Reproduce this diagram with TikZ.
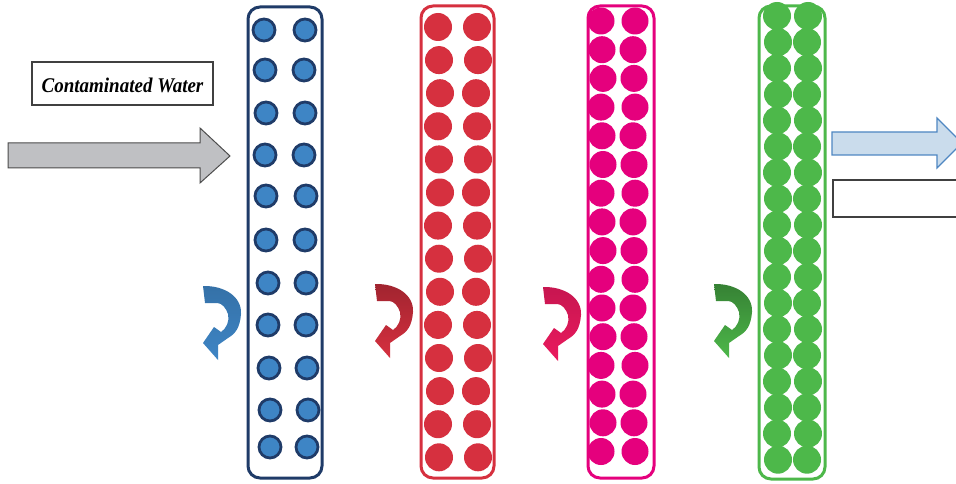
\documentclass[tikz,border=0pt]{standalone}
\usepackage{fontspec}
\setmainfont{Liberation Serif}
\definecolor{navy}{HTML}{1F3B68}
\definecolor{bluefill}{HTML}{3E85C5}
\definecolor{redc}{HTML}{D6303F}
\definecolor{magc}{HTML}{E5007D}
\definecolor{greenc}{HTML}{4DB84A}
\definecolor{grayfill}{HTML}{BFC0C3}
\definecolor{lightblue}{HTML}{CADCEC}
\definecolor{arrowblue}{HTML}{4F87C2}
\definecolor{pinkred}{HTML}{EA1A5E}
\tikzset{
  column/.style={line width=3pt, rounded corners=12pt},
  bead/.style={line width=2.8pt},
  turn/.pic={
    \path[pic actions] (0,-1) .. controls (22,-1.5) and (39,10) .. (38,27)
      .. controls (37,41) and (32,47) .. (25,51) -- (15,58) -- (15,73) -- (0,56)
      -- (11,40) -- (18,45) .. controls (23,42) and (27,34) .. (25,27)
      .. controls (23,21) and (19,16) .. (14,16) -- (2,16) -- cycle;
  },
  flowbox/.style={draw=black!75, line width=1.3pt, fill=white},
}
\begin{document}
\begin{tikzpicture}[x=1pt,y=-1pt]
\clip (0,0) rectangle (956,484);
\fill[white] (0,0) rectangle (956,484);

% inlet label and arrow
\draw[flowbox] (32,62) rectangle (213,105);
\node[font=\fontsize{19}{22}\selectfont\bfseries\itshape, yscale=1.1] (inlet) at (122.5,85) {Contaminated Water};
\draw[fill=grayfill, draw=black!70, line width=1pt, line join=miter]
  (8,143) -- (200,143) -- (200,128) -- (230,156) -- (200,183) -- (200,168) -- (8,168) -- cycle;

% outlet arrow and empty box
\draw[fill=lightblue, draw=arrowblue, line width=1.2pt, line join=miter]
  (832,132) -- (937,132) -- (937,118) -- (962,143) -- (937,168) -- (937,155) -- (832,155) -- cycle;
\draw[flowbox] (833,180) rectangle (975,217);

% column 1 (blue)
\foreach \xa/\xb/\yy in {264/305/30,265/304/70,266/305/113,265/304/155,266/306/196,266/305/240,268/306/283,268/306/325,269/307/368,270/308/410,270/307/447}{
  \draw[bead, draw=navy, fill=bluefill] (\xa,\yy) circle[radius=11];
  \draw[bead, draw=navy, fill=bluefill] (\xb,\yy) circle[radius=11];
}
\draw[column, draw=navy] (248,7) rectangle (322,478);

% column 2 (red)
\foreach \k in {0,...,13}{
  \pgfmathsetmacro{\yy}{27+33.1*\k}
  \pgfmathsetmacro{\xa}{439+mod(\k,3)-1}
  \pgfmathsetmacro{\xb}{477+mod(\k+1,3)-1}
  \fill[redc] (\xa,\yy) circle[radius=14];
  \fill[redc] (\xb,\yy) circle[radius=14];
}
\draw[column, draw=redc] (421,6) rectangle (494,478);

% column 3 (magenta)
\foreach \k in {0,...,15}{
  \pgfmathsetmacro{\yy}{21+28.7*\k}
  \pgfmathsetmacro{\xa}{602+mod(\k,3)-1}
  \pgfmathsetmacro{\xb}{634+mod(\k+2,3)-1}
  \fill[magc] (\xa,\yy) circle[radius=13.5];
  \fill[magc] (\xb,\yy) circle[radius=13.5];
}
\draw[column, draw=magc] (588,6) rectangle (654,478);

% column 4 (green)
\foreach \k in {0,...,17}{
  \pgfmathsetmacro{\yy}{16+26.1*\k}
  \pgfmathsetmacro{\xa}{777+mod(\k,2)}
  \pgfmathsetmacro{\xb}{807+mod(\k+1,2)}
  \fill[greenc] (\xa,\yy) circle[radius=14];
  \fill[greenc] (\xb,\yy) circle[radius=14];
}
\draw[column, draw=greenc] (759,6) rectangle (825,479);

% curved transfer arrows
\pic[top color=bluefill!85!black, bottom color=bluefill] at (203,287) {turn};
\pic[top color=redc!75!black, bottom color=redc] at (375,285) {turn};
\pic[top color=pinkred!85!black, bottom color=pinkred] at (543,288) {turn};
\pic[top color=greenc!70!black, bottom color=greenc] at (714,285) {turn};
\end{tikzpicture}
\end{document}
